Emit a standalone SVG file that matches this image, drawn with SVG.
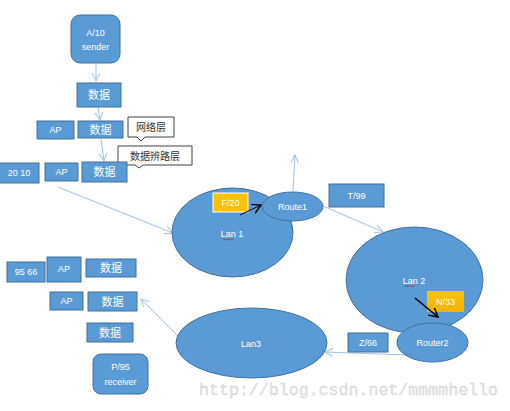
<svg xmlns="http://www.w3.org/2000/svg" width="510" height="411" viewBox="0 0 510 411">
<defs>
<marker id="ah" markerWidth="10" markerHeight="10" refX="8" refY="4" orient="auto" markerUnits="userSpaceOnUse">
<path d="M0,0 L8,4 L0,8" fill="none" stroke="#9DC3E6" stroke-width="1"/>
</marker>
<marker id="ahb" markerWidth="12" markerHeight="12" refX="9" refY="5" orient="auto" markerUnits="userSpaceOnUse">
<path d="M0,0 L9,5 L0,10" fill="none" stroke="#000" stroke-width="1.4"/>
</marker>
<linearGradient id="og" x1="0" y1="0" x2="0" y2="1">
<stop offset="0" stop-color="#FFC000"/>
<stop offset="1" stop-color="#F0B400"/>
</linearGradient>
</defs>
<style>
.b{fill:#5B9BD5;stroke:#41719C;stroke-width:1}
.t{fill:#fff;font-family:"Liberation Sans","Noto Sans CJK SC",sans-serif;font-size:9px;text-anchor:middle;dominant-baseline:central}
.tc{font-size:11px}
.c{fill:#fff;stroke:#404040;stroke-width:1}
.ct{fill:#333;font-family:"Liberation Sans","Noto Sans CJK SC",sans-serif;font-size:10px;text-anchor:middle;dominant-baseline:central}
.l{stroke:#9DC3E6;stroke-width:1;fill:none;marker-end:url(#ah)}
</style>
<rect width="510" height="411" fill="#fff"/>
<g id="connectors">
<line class="l" x1="96" y1="63" x2="96" y2="81"/>
<line class="l" x1="98" y1="107" x2="100" y2="120"/>
<line class="l" x1="101" y1="139" x2="104" y2="161"/>
<line class="l" x1="58" y1="187" x2="173" y2="233"/>
<line class="l" x1="293" y1="191" x2="295" y2="155"/>
<line class="l" x1="323" y1="206" x2="383" y2="232"/>
<line class="l" x1="408" y1="355" x2="325" y2="352"/>
<line class="l" x1="180" y1="338" x2="141" y2="299"/>
</g>
<g id="sender"><rect class="b" x="71" y="15" width="49" height="48" rx="9"/><text class="t" x="95.5" y="33">A/10</text><text class="t" x="95.5" y="47">sender</text></g>
<g id="data1"><rect class="b" x="77" y="83" width="44" height="24"/><text class="t tc" x="99" y="95">数据</text></g>
<g id="ap1"><rect class="b" x="37" y="121" width="37" height="18"/><text class="t" x="55.5" y="130">AP</text></g>
<g id="data2"><rect class="b" x="78" y="121" width="45" height="17"/><text class="t tc" x="100.5" y="129.5">数据</text></g>
<g id="callout1"><path class="c" d="M128,117 H174 V137 H145 L141,141 L137,137 H128 Z"/><text class="ct" x="151" y="127">网络层</text></g>
<g id="callout2"><path class="c" d="M118,146 H192 V165 H143 L139,168 L135,165 H118 Z"/><text class="ct" x="155" y="156">数据辨路层</text></g>
<g id="addr1"><rect class="b" x="-1" y="163" width="40" height="20"/><text class="t" x="19" y="173">20 10</text></g>
<g id="ap2"><rect class="b" x="45" y="163" width="33" height="18"/><text class="t" x="61.5" y="172">AP</text></g>
<g id="data3"><rect class="b" x="82" y="162" width="45" height="20"/><text class="t tc" x="104.5" y="172">数据</text></g>
<g id="lan1"><ellipse class="b" cx="232.5" cy="232.5" rx="60.5" ry="44.5"/><text class="t" x="232" y="234">Lan 1</text><path d="M223,239.5 q1,-1 2,0 t2,0 t2,0 t2,0 t2,0" fill="none" stroke="#c00" stroke-width="0.6"/></g>
<g id="f20"><rect x="213" y="193" width="35" height="19" fill="#FFC000" stroke="#fff" stroke-width="1"/><text class="t" x="230.5" y="203">F/20</text></g>
<g id="route1"><ellipse class="b" cx="292.5" cy="206.5" rx="30.5" ry="14.5"/><text class="t" x="292.5" y="206.5">Route1</text></g>
<g id="t99"><rect class="b" x="329" y="184" width="55" height="23"/><text class="t" x="356.5" y="195.5">T/99</text></g>
<g id="lan2"><ellipse class="b" cx="414.5" cy="280" rx="68.5" ry="53"/><text class="t" x="414" y="281">Lan 2</text><path d="M405,286 q1,-1 2,0 t2,0 t2,0 t2,0 t2,0" fill="none" stroke="#c00" stroke-width="0.6"/></g>
<g id="router2"><ellipse class="b" cx="432.5" cy="342.5" rx="35.5" ry="19.5"/><text class="t" x="432.5" y="342.5">Router2</text></g>
<g id="n33"><rect x="427" y="291" width="37" height="21" fill="url(#og)"/><text class="t" x="445.5" y="301.5">N/33</text></g>
<g id="z66"><rect class="b" x="348" y="333" width="40" height="19"/><text class="t" x="368" y="342.5">Z/66</text></g>
<g id="lan3"><ellipse class="b" cx="251.5" cy="343" rx="75.5" ry="35"/><text class="t" x="251" y="344">Lan3</text></g>
<g id="addr2"><rect class="b" x="7" y="262" width="38" height="20"/><text class="t" x="26" y="272">95 66</text></g>
<g id="ap3"><rect class="b" x="47" y="257" width="34" height="25"/><text class="t" x="64" y="269">AP</text></g>
<g id="data4"><rect class="b" x="86" y="259" width="50" height="18"/><text class="t tc" x="111" y="268">数据</text></g>
<g id="ap4"><rect class="b" x="50" y="292" width="33" height="18"/><text class="t" x="66.5" y="301">AP</text></g>
<g id="data5"><rect class="b" x="88" y="292" width="49" height="19"/><text class="t tc" x="112.5" y="301.5">数据</text></g>
<g id="data6"><rect class="b" x="87" y="323" width="46" height="19"/><text class="t tc" x="110" y="332.5">数据</text></g>
<g id="receiver"><rect class="b" x="93" y="354" width="55" height="40" rx="8"/><text class="t" x="120.5" y="367">P/95</text><text class="t" x="120.5" y="382">receiver</text></g>
<g id="connectors-black">
<line x1="240" y1="215" x2="261" y2="205" stroke="#000" stroke-width="1" marker-end="url(#ahb)"/>
<line x1="415" y1="298" x2="438" y2="317" stroke="#000" stroke-width="1.6" marker-end="url(#ahb)"/>
</g>
<text x="199" y="395" font-family="'Liberation Mono',monospace" font-size="16.6" fill="#e4e4e4" stroke="#cfcfcf" stroke-width="0.3" textLength="299">http://blog.csdn.net/mmmmhello</text>
</svg>
